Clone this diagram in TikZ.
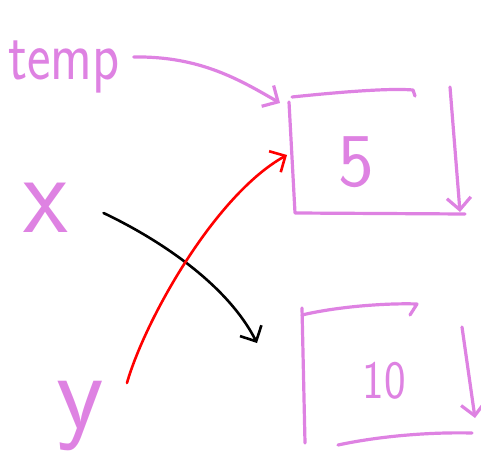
\documentclass[tikz,border=0pt]{standalone}
\usepackage{tikz}
\usetikzlibrary{arrows.meta}
\definecolor{pen}{RGB}{222,130,226}
\tikzset{
  ink/.style={line width=3.2pt, line cap=round, line join=round},
  hand/.style={pen, inner sep=0pt, font=\sffamily},
  barb/.style={-{Straight Barb[length=12pt,width=24pt]}},
}

\begin{document}
\begin{tikzpicture}[x=1pt,y=-1pt]
    \useasboundingbox (0,0) rectangle (481,462);

    % Names
    \node[hand, anchor=base, xscale=0.8, font=\sffamily\fontsize{70}{70}\selectfont]
      (temp) at (64,80) {temp};
    \node[hand, anchor=base, xscale=0.9, font=\sffamily\fontsize{115}{115}\selectfont]
      (x) at (46,233) {x};
    \node[hand, anchor=base, font=\sffamily\fontsize{110}{110}\selectfont]
      (y) at (80,428) {y};

    % Box for 5
    \draw[ink, pen] (292,97) .. controls (340,92) and (390,88) .. (413,90)
      -- (415,96);
    \draw[ink, pen] (289,102) -- (295,213) -- (465,214);
    \draw[ink, pen, barb] (450,87) -- (460,212);
    \coordinate (b1nw) at (280,103);
    \coordinate (b1w) at (287,155);
    \node[hand, font=\sffamily\fontsize{76}{76}\selectfont] (five) at (356,162) {5};

    % Box for 10
    \draw[ink, pen] (302,315) .. controls (340,306) and (390,303) .. (417,304)
      -- (410,315);
    \draw[ink, pen] (302,308) -- (305,443);
    \draw[ink, pen] (338,445) .. controls (380,436) and (430,432) .. (472,433);
    \draw[ink, pen, barb] (462,327) -- (475,418);
    \coordinate (b2w) at (257,343);
    \node[hand, xscale=0.85, font=\sffamily\fontsize{54}{54}\selectfont] (ten) at (384,381) {10};

    % Pointers
    \draw[ink, pen, barb] ([xshift=14pt,yshift=23pt]temp.base east)
      .. controls (200,56) and (240,80) .. (b1nw);
    \draw[line width=2.6pt, line cap=round, black, barb]
      ([xshift=35pt,yshift=20pt]x.base east)
      .. controls (150,235) and (225,280) .. (b2w);
    \draw[line width=2.6pt, line cap=round, red, barb]
      ([xshift=23pt,yshift=45pt]y.base east)
      .. controls (145,320) and (215,195) .. (b1w);
\end{tikzpicture}
\end{document}
